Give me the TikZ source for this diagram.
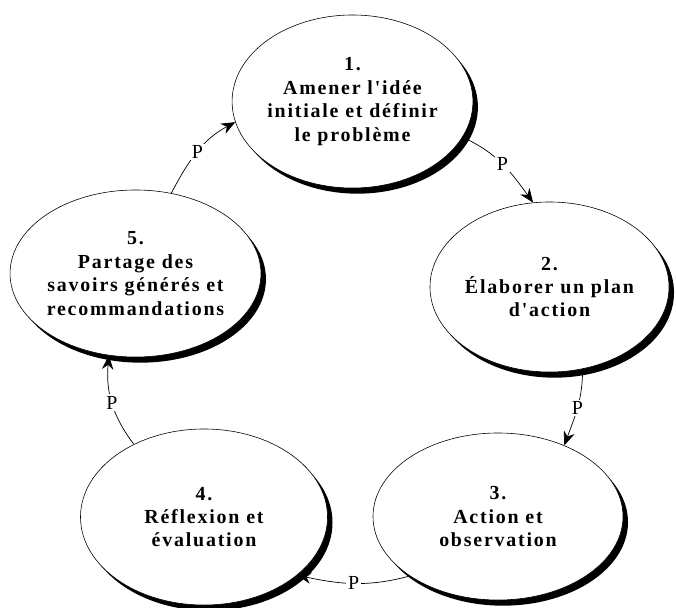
\documentclass[tikz,border=0pt]{standalone}
\usepackage{fontspec}
\setmainfont{Liberation Serif}[Ligatures=TeXOff]
\usetikzlibrary{shapes.geometric, arrows.meta, shadows}
\newcommand{\etapefont}{\fontsize{17}{20}\selectfont\bfseries\addfontfeature{LetterSpace=9}}
\tikzstyle{etape} = [ellipse,
draw=black,
line width=0.5pt,
fill=white,
inner sep=0pt,
align=center,
font=\etapefont,
drop shadow={shadow xshift=0.15cm, shadow yshift=-0.17cm, opacity=1, fill=black}]
\tikzstyle{fleche} = [line width=0.6pt, -{Stealth[length=0.42cm, width=0.34cm]}]
\tikzstyle{lettre} = [fill=white, inner sep=1.5pt, font=\fontsize{17}{20}\selectfont]

\begin{document}
\begin{tikzpicture}[x=0.03cm, y=0.03cm]
\useasboundingbox (0,0) rectangle (676,607);
\node (e1) [etape, minimum width=6.93cm, minimum height=5.19cm] at (352.5,505.5) {1.\\Amener l'idée\\initiale et définir\\le problème};
\node (e2) [etape, minimum width=7.05cm, minimum height=5.1cm] at (549.5,320) {2.\\Élaborer un plan\\d'action};
\node (e3) [etape, minimum width=7.5cm, minimum height=5.01cm] at (498,90.5) {3.\\Action et\\observation};
\node (e4) [etape, minimum width=7.41cm, minimum height=5.28cm] at (204,90) {4.\\Réflexion et\\évaluation};
\node (e5) [etape, minimum width=7.35cm, minimum height=5.01cm] at (135.5,333.5) {5.\\Partage des\\savoirs générés et\\recommandations};
\draw [fleche] (e5.66) to[out=62, in=208] node[lettre] {P} (e1.190);
\draw [fleche] (e1.-18) to[out=-24, in=126] node[lettre] {P} (e2.101);
\draw [fleche] (e2.-68) to[out=-90, in=70] node[lettre] {P} (e3.47);
\draw [fleche] (e3.214) to[out=195, in=-12] node[lettre] {P} (e4.-32);
\draw [fleche] (e4.134) to[out=127, in=-95] node[lettre] {P} (e5.-108);
\end{tikzpicture}
\end{document}
